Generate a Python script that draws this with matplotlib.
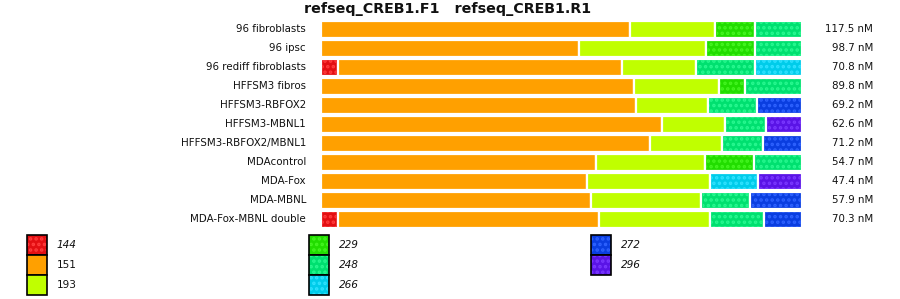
import matplotlib
matplotlib.use("Agg")
import matplotlib.pyplot as plt
from matplotlib.patches import Rectangle
import numpy as np

title = "refseq_CREB1.F1   refseq_CREB1.R1"
samples = ["96 fibroblasts", "96 ipsc", "96 rediff fibroblasts", "HFFSM3 fibros",
           "HFFSM3-RBFOX2", "HFFSM3-MBNL1", "HFFSM3-RBFOX2/MBNL1", "MDAcontrol",
           "MDA-Fox", "MDA-MBNL", "MDA-Fox-MBNL double"]
concentrations = ["117.5 nM", "98.7 nM", "70.8 nM", "89.8 nM", "69.2 nM", "62.6 nM",
                  "71.2 nM", "54.7 nM", "47.4 nM", "57.9 nM", "70.3 nM"]
sizes = ["144", "151", "193", "229", "248", "266", "272", "296"]
# percentage of each fragment size per sample (columns follow `sizes`)
p144 = [0.0, 0.0, 3.7, 0.0, 0.0, 0.0, 0.0, 0.0, 0.0, 0.0, 3.7]
p151 = [64.3, 53.7, 58.9, 65.1, 65.5, 70.9, 68.4, 57.2, 55.3, 56.2, 54.1]
p193 = [17.7, 26.4, 15.4, 17.7, 15.0, 13.1, 15.0, 22.7, 25.6, 22.9, 23.1]
p229 = [8.3, 10.2, 0.0, 5.4, 0.0, 0.0, 0.0, 10.2, 0.0, 0.0, 0.0]
p248 = [9.7, 9.7, 12.3, 11.8, 10.2, 8.5, 8.4, 9.9, 0.0, 10.2, 11.2]
p266 = [0.0, 0.0, 9.7, 0.0, 0.0, 0.0, 0.0, 0.0, 10.0, 0.0, 0.0]
p272 = [0.0, 0.0, 0.0, 0.0, 9.3, 0.0, 8.2, 0.0, 0.0, 10.7, 7.9]
p296 = [0.0, 0.0, 0.0, 0.0, 0.0, 7.5, 0.0, 0.0, 9.1, 0.0, 0.0]
series = [p144, p151, p193, p229, p248, p266, p272, p296]

faces = ["#e30f12", "#ffa000", "#c0ff00", "#22dd00", "#00e070", "#00ccea", "#0a3ee0", "#5a14e6"]
dots = ["#ff3c3c", "#ffa000", "#c0ff00", "#44f520", "#28f890", "#30e2ff", "#2e62ff", "#7a38ff"]
hatched = [True, False, False, True, True, True, True, True]

W, H = 900, 299
fig = plt.figure(figsize=(9, 2.99), dpi=100)
plt.rcParams['hatch.linewidth'] = 1.7

ax_l, ax_r = 320.5, 802.0
ax_t, ax_b = 19.8, 228.8
ax = fig.add_axes([ax_l / W, 1 - ax_b / H, (ax_r - ax_l) / W, (ax_b - ax_t) / H])

y = np.arange(len(samples))
left = np.zeros(len(samples))
for vals, fc, dc, h in zip(series, faces, dots, hatched):
    vals = np.array(vals)
    mask = vals > 0
    ax.barh(y[mask], vals[mask], left=left[mask], height=0.88, color=fc,
            edgecolor="white", linewidth=1.6, zorder=2)
    if h:
        ax.barh(y[mask], vals[mask] - 0.5, left=left[mask] + 0.25, height=0.8,
                facecolor="none", edgecolor=dc, linewidth=0, hatch="...", zorder=3)
    left += vals

ax.set_xlim(0, 100)
ax.set_ylim(len(samples) - 0.5, -0.5)
ax.axis("off")

for i, (s, c) in enumerate(zip(samples, concentrations)):
    ax.text(-14.5 / (ax_r - ax_l) * 100, i, s, ha="right", va="center", fontsize=7.4,
            color="#111111")
    ax.text((873 - ax_l) / (ax_r - ax_l) * 100, i, c, ha="right", va="center",
            fontsize=7.4, color="#111111")

fig.text(448 / W, 1 - 13.3 / H, title, ha="center", va="baseline", fontsize=10.3,
         fontweight="bold", color="#111111")

# legend
col_x = [27.3, 309.3, 591.3]
box_w, box_h = 20.0, 20.0
top0 = 234.7
order = [[0, 1, 2], [3, 4, 5], [6, 7]]
for cx, idxs in zip(col_x, order):
    for r, k in enumerate(idxs):
        ty = top0 + r * box_h
        rect = Rectangle((cx / W, 1 - (ty + box_h) / H), box_w / W, box_h / H,
                         transform=fig.transFigure, facecolor=faces[k],
                         edgecolor="black", linewidth=1.2, zorder=2)
        fig.add_artist(rect)
        if hatched[k]:
            hr = Rectangle(((cx + 1) / W, 1 - (ty + box_h - 1) / H), (box_w - 2) / W,
                           (box_h - 2) / H, transform=fig.transFigure,
                           facecolor="none", edgecolor=dots[k], linewidth=0,
                           hatch="...", zorder=3)
            fig.add_artist(hr)
        fig.text((cx + 29.5) / W, 1 - (ty + box_h / 2 + 0.5) / H, sizes[k],
                 ha="left", va="center", fontsize=7.6,
                 style="italic" if hatched[k] else "normal", color="#111111")

fig.savefig("out.png", dpi=100)
